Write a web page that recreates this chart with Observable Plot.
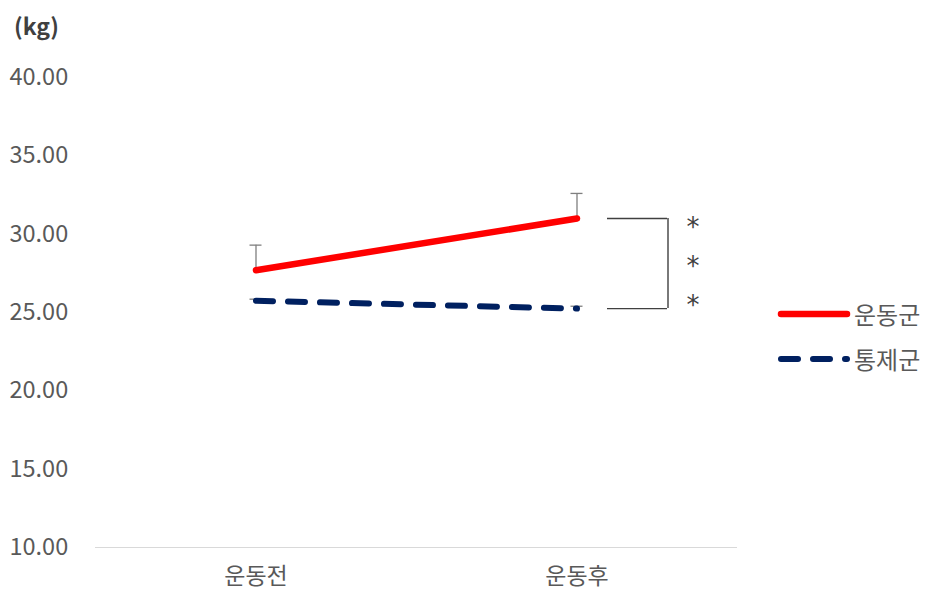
<!DOCTYPE html>
<html><head><meta charset="utf-8">
<script src="https://cdn.jsdelivr.net/npm/d3@7"></script>
<script src="https://cdn.jsdelivr.net/npm/@observablehq/plot@0.6"></script>
<style>
body{margin:0;background:#fff;font-family:"Noto Sans CJK KR","Noto Sans",sans-serif;}
#wrap{position:relative;width:931px;height:603px;}
.unit{position:absolute;left:14px;top:8px;font-size:23px;font-weight:bold;color:#404040;}
.leg{position:absolute;left:776px;display:flex;align-items:center;font-size:24px;color:#595959;}
</style></head><body>
<div id="wrap"><div class="unit">(kg)</div></div>
<script>
const phases = ["운동전", "운동후"];
const groups = ["운동군", "통제군"];
const exerciseMean = [27.7, 31.0];
const exerciseErrTop = [29.3, 32.6];
const controlMean = [25.75, 25.25];
const controlErrTop = [25.85, 25.4];
const yTicks = [10, 15, 20, 25, 30, 35, 40];
const colors = ["#ff0000", "#002060"];
const sigLevels = [31.0, 25.25];
const stars = ["*", "*", "*"];
const starY = [30.6, 28.1, 25.6];

const ex = phases.map((p, i) => ({phase: p, mean: exerciseMean[i], top: exerciseErrTop[i]}));
const ct = phases.map((p, i) => ({phase: p, mean: controlMean[i], top: controlErrTop[i]}));
const errs = ex.concat(ct);

const font = '"Noto Sans CJK KR","Noto Sans",sans-serif';
const chart = Plot.plot({
  width: 931, height: 603,
  marginLeft: 95, marginRight: 194, marginTop: 77, marginBottom: 56,
  style: {fontFamily: font, background: "white"},
  x: {type: "band", domain: phases, padding: 0, axis: null},
  y: {domain: [10, 40], axis: null},
  marks: [
    Plot.ruleY([10], {stroke: "#d9d9d9", strokeWidth: 1.2}),
    Plot.text(yTicks, {y: d => d, text: d => d.toFixed(2), frameAnchor: "left", textAnchor: "start", dx: -86, fontSize: 23.5, fill: "#595959"}),
    Plot.text(phases, {x: d => d, frameAnchor: "bottom", dy: 36, fontSize: 23, fill: "#595959"}),
    Plot.ruleX(errs, {x: "phase", y1: "mean", y2: "top", stroke: "#7f7f7f", strokeWidth: 1.3}),
    Plot.tickY(errs, {x: "phase", y: "top", stroke: "#7f7f7f", strokeWidth: 1.3, insetLeft: 154.5, insetRight: 154.5}),
    Plot.line(ct, {x: "phase", y: "mean", stroke: colors[1], strokeWidth: 6, strokeDasharray: "17 15", strokeLinecap: "round"}),
    Plot.line(ex, {x: "phase", y: "mean", stroke: colors[0], strokeWidth: 6.5, strokeLinecap: "round"}),
    Plot.tickY(sigLevels.map(v => ({phase: phases[1], v})), {x: "phase", y: "v", stroke: "#404040", strokeWidth: 1.4, insetLeft: 191, insetRight: 70}),
    Plot.ruleX([{phase: phases[1]}], {x: "phase", y1: sigLevels[0], y2: sigLevels[1], dx: 91, stroke: "#404040", strokeWidth: 1.4}),
    Plot.text(stars.map((s, i) => ({phase: phases[1], s, y: starY[i]})), {x: "phase", y: "y", text: "s", dx: 116, dy: 3, fontSize: 26, fontFamily: "DejaVu Sans", fill: "#404040"})
  ]
});
const wrap = document.getElementById("wrap");
wrap.prepend(chart);
groups.forEach((g, i) => {
  const d = document.createElement("div");
  d.className = "leg";
  d.style.top = (i === 0 ? 296 : 341) + "px";
  const dash = i === 1 ? 'stroke-dasharray="17 15"' : '';
  d.innerHTML = `<svg width="78" height="30"><line x1="5" x2="71" y1="15" y2="15" stroke="${colors[i]}" stroke-width="${i ? 6 : 6.5}" stroke-linecap="round" ${dash}/></svg><span>${g}</span>`;
  wrap.appendChild(d);
});
chart.style.position = "absolute"; chart.style.left = "0"; chart.style.top = "0";
</script>
</body></html>
